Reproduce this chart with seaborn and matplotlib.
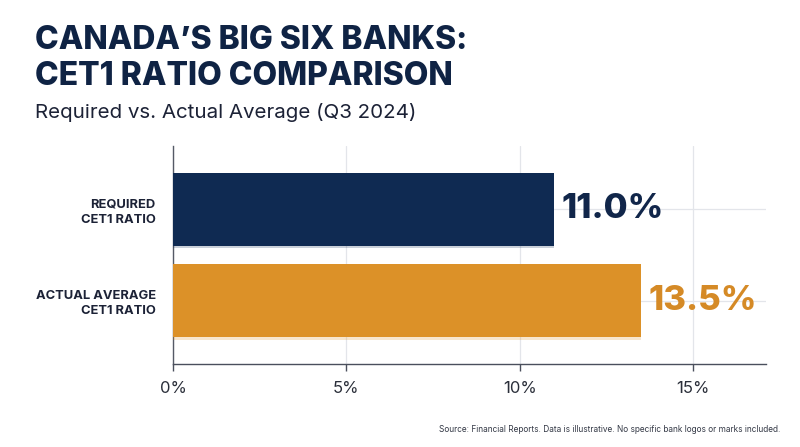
import matplotlib
matplotlib.use("Agg")
import matplotlib.pyplot as plt
import matplotlib.patheffects as pe
import seaborn as sns
import pandas as pd

categories = ["REQUIRED\nCET1 RATIO", "ACTUAL AVERAGE\nCET1 RATIO"]
values = [11.0, 13.5]
value_labels = ["11.0%", "13.5%"]
tick_values = [0, 5, 10, 15]
tick_labels = ["0%", "5%", "10%", "15%"]
bar_colors = ["#0f2a52", "#dc9128"]
label_colors = ["#11264a", "#d58a26"]

sns.set_theme(style="white")
plt.rcParams["font.family"] = ["Inter", "DejaVu Sans"]

df = pd.DataFrame({"category": categories, "value": values})

fig = plt.figure(figsize=(8, 4.47), dpi=100)
fig.patch.set_facecolor("white")
ax = fig.add_axes([173 / 800, 1 - 364 / 447, (766 - 173) / 800, (364 - 146) / 447])

sns.barplot(data=df, x="value", y="category", hue="category", palette=bar_colors,
            orient="h", width=0.8, legend=False, ax=ax, zorder=3, saturation=1,
            edgecolor="none", linewidth=0)

for p in ax.patches:
    p.set_path_effects([pe.SimplePatchShadow(offset=(0, -1.5), shadow_rgbFace=p.get_facecolor(), alpha=0.22),
                        pe.Normal()])

ax.set_xlim(0, 17.1)
ax.set_ylim(1.69, -0.69)
ax.set_xticks(tick_values)
ax.set_xticklabels(tick_labels, fontsize=12, color="#2b2f3a")
ax.set_xlabel("")
ax.set_ylabel("")
ax.set_yticks([0, 1])
ax.set_yticklabels(categories, fontsize=9.3, fontweight="bold", color="#1c2236", linespacing=1.35)
ax.tick_params(axis="y", length=0, pad=12.5)
ax.tick_params(axis="x", length=5, width=1, color="#4a4f5c", pad=7, direction="out", bottom=True)

ax.grid(True, color="#e3e5ea", linewidth=0.9, zorder=0)
ax.set_axisbelow(True)
for s in ["top", "right"]:
    ax.spines[s].set_visible(False)
ax.spines["left"].set_color("#555a66")
ax.spines["bottom"].set_color("#4a4f5c")
ax.spines["left"].set_linewidth(1)
ax.spines["bottom"].set_linewidth(1)

for i, (v, lab, c) in enumerate(zip(values, value_labels, label_colors)):
    ax.text(v + 0.2, i, lab, va="center", ha="left", fontsize=25, fontweight="heavy", color=c, zorder=4)

fig.text(35 / 800, 1 - 49 / 447, "CANADA’S BIG SIX BANKS:", fontsize=23, fontweight="heavy",
         color="#0f2344", va="baseline", ha="left")
fig.text(35 / 800, 1 - 85 / 447, "CET1 RATIO COMPARISON", fontsize=23, fontweight="heavy",
         color="#0f2344", va="baseline", ha="left")
fig.text(35 / 800, 1 - 118 / 447, "Required vs. Actual Average (Q3 2024)", fontsize=14.8,
         color="#1c2236", va="baseline", ha="left")
fig.text(780 / 800, 1 - 430 / 447, "Source: Financial Reports. Data is illustrative. No specific bank logos or marks included.",
         fontsize=5.95, color="#333845", va="center", ha="right")

fig.savefig("out.png", dpi=100, facecolor="white")
